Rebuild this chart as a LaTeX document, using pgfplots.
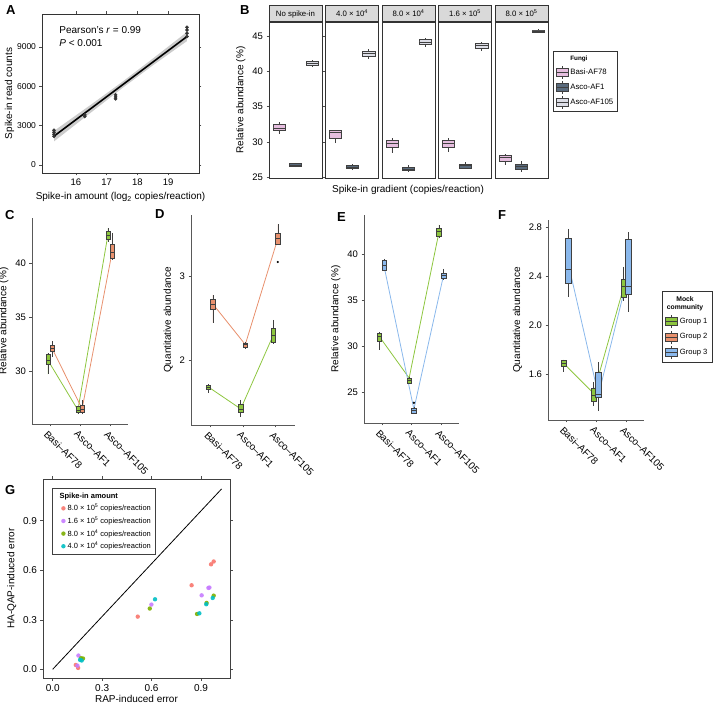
\documentclass[border=0pt]{standalone}
\usepackage{fontspec}
\setmainfont{Liberation Sans}
\usepackage{pgfplots}
\pgfplotsset{compat=1.18}
\usepgfplotslibrary{statistics}

\definecolor{basi}{HTML}{E6BEDF}
\definecolor{ascoone}{HTML}{5A6B7D}
\definecolor{ascolight}{HTML}{DDDEE7}
\definecolor{grpone}{HTML}{8DC63F}
\definecolor{grptwo}{HTML}{E8916E}
\definecolor{grpthree}{HTML}{8AB8EC}
\definecolor{gred}{HTML}{F8766D}
\definecolor{gpurple}{HTML}{C77CFF}
\definecolor{ggreen}{HTML}{7CAE00}
\definecolor{gteal}{HTML}{00BFC4}

\newcommand{\fs}[1]{\fontsize{#1}{#1}\selectfont}
% one prepared box: fill, position, width, low whisker, Q1, median, Q3, high whisker
\newcommand{\bx}[8]{\addplot[boxplot prepared={draw direction=y, draw position=#2,
    box extend=#3, lower whisker=#4, lower quartile=#5, median=#6,
    upper quartile=#7, upper whisker=#8, whisker extend=0}, fill=#1,
    draw=black!75, line width=0.5pt, forget plot] coordinates {};}
\newcommand{\boxkey}[1]{%
  \draw[black!75, line width=0.5pt] (6pt,-6.5pt) -- (6pt,6.5pt);
  \draw[fill=#1, draw=black!75, line width=0.5pt] (0pt,-4pt) rectangle (12pt,4pt);
  \draw[black!75, line width=0.5pt] (0pt,0pt) -- (12pt,0pt);}

\pgfplotsset{
  every axis/.append style={scale only axis, anchor=south west,
    /pgf/number format/assume math mode=true,
    tick label style={font=\fs{9.5}}, label style={font=\fs{10}},
    tick align=outside, major tick length=2.5pt,
    tick style={black!70, line width=0.5pt},
    axis line style={black!80, line width=0.6pt}},
  bpan/.style={width=53pt, height=156pt, xmin=0.4, xmax=3.6, ymin=24.9, ymax=47,
    xtick=\empty, ytick=\empty,
    every axis title/.style={at={(0.5,1)}, anchor=south, fill=gray!30,
      draw=black!80, line width=0.6pt, minimum width=53pt, minimum height=16pt,
      inner sep=0pt, text height=7pt, text depth=2pt, font=\fs{7.8}}},
  mock/.style={xmin=0.4, xmax=3.6, xtick={1,2,3},
    xticklabels={Basi--AF78, Asco--AF1, Asco--AF105},
    x tick label style={rotate=-45, anchor=north west, font=\fs{10}, xshift=-2pt},
    axis x line*=bottom, axis y line*=left,
    every outer x axis line/.append style={-},
    every outer y axis line/.append style={-},
    axis line style={-, black!65, line width=0.9pt}},
  lnk/.style={line width=0.8pt, mark=none, forget plot},
  dot/.style={only marks, mark=*, mark size=0.9pt, black, forget plot},
}

\begin{document}
\begin{tikzpicture}
\useasboundingbox (0,0) rectangle (725pt,704pt);

% ---------------- A
\begin{axis}[at={(42pt,531pt)}, width=157pt, height=159pt,
  xmin=14.9, xmax=20.0, ymin=-610, ymax=11519,
  xtick={16,17,18,19}, ytick={0,3000,6000,9000},
  yticklabel style={font=\fs{8.5}},
  scaled y ticks=false, /pgf/number format/1000 sep={},
  xlabel={Spike-in amount (log\textsubscript{2} copies/reaction)},
  ylabel={Spike-in read counts}, ylabel style={yshift=-4pt}]
\addplot[fill=gray!40, draw=none] coordinates {(15.29,2600) (16.5,4620) (17.5,6330)
  (18.5,8120) (19.61,10150) (19.61,9450) (18.5,7600) (17.5,5850) (16.5,4020) (15.29,1800)};
\addplot[black, line width=1.6pt] coordinates {(15.29,2200) (19.61,9800)};
\addplot[only marks, mark=*, mark size=1.6pt, black!80] coordinates {
  (15.29,2200) (15.29,2350) (15.29,2500) (15.29,2650)
  (16.29,3700) (16.29,3820)
  (17.29,5050) (17.29,5200) (17.29,5350)
  (19.61,9800) (19.61,10050) (19.61,10300) (19.61,10500)};
\node[anchor=west, font=\fs{10}] at (axis cs:15.35,10300) {Pearson's \textit{r} = 0.99};
\node[anchor=west, font=\fs{10}] at (axis cs:15.35,9300) {\textit{P} < 0.001};
\end{axis}

% ---------------- B
\begin{axis}[bpan, at={(269pt,526pt)}, ytick={25,30,35,40,45},
  ylabel={Relative abundance (\%)}, title={No spike-in}]
\bx{basi}{1}{0.72}{31.2}{31.7}{32.0}{32.5}{32.8}
\bx{ascoone}{2}{0.75}{26.45}{26.55}{26.75}{26.95}{27.05}
\bx{ascolight}{3}{0.75}{40.6}{40.9}{41.15}{41.4}{41.6}
\end{axis}
\begin{axis}[bpan, at={(325.5pt,526pt)}, title={4.0 × 10\textsuperscript{4}}]
\bx{basi}{1}{0.72}{29.8}{30.55}{31.45}{31.6}{31.7}
\bx{ascoone}{2}{0.75}{26.0}{26.25}{26.45}{26.7}{26.85}
\bx{ascolight}{3}{0.75}{41.8}{42.1}{42.55}{42.9}{43.2}
\end{axis}
\begin{axis}[bpan, at={(382pt,526pt)}, title={8.0 × 10\textsuperscript{4}}]
\bx{basi}{1}{0.72}{28.5}{29.2}{29.8}{30.25}{30.6}
\bx{ascoone}{2}{0.75}{25.9}{25.95}{26.15}{26.4}{26.7}
\bx{ascolight}{3}{0.75}{43.4}{43.8}{44.2}{44.5}{44.7}
\end{axis}
\begin{axis}[bpan, at={(438.5pt,526pt)}, title={1.6 × 10\textsuperscript{5}}]
\bx{basi}{1}{0.72}{28.6}{29.2}{29.8}{30.2}{30.6}
\bx{ascoone}{2}{0.75}{26.3}{26.35}{26.65}{26.85}{27.1}
\bx{ascolight}{3}{0.75}{42.9}{43.25}{43.65}{44.05}{44.2}
\end{axis}
\begin{axis}[bpan, at={(495pt,526pt)}, title={8.0 × 10\textsuperscript{5}},
  legend style={at={(1.094,0.814)}, anchor=north west, draw=black!80,
    line width=0.7pt, font=\fs{7.8}, row sep=1.5pt, inner sep=2.5pt},
  legend cell align=left]
\bx{basi}{1}{0.72}{26.8}{27.3}{27.8}{28.1}{28.3}
\bx{ascoone}{2}{0.75}{25.8}{26.1}{26.6}{26.8}{27.3}
\bx{ascolight}{3}{0.75}{45.5}{45.6}{45.75}{45.9}{46.0}
\addlegendimage{empty legend}\addlegendentry{\fs{6.3}\textbf{Fungi}}
\addlegendimage{legend image code/.code={\boxkey{basi}}}\addlegendentry{Basi-AF78}
\addlegendimage{legend image code/.code={\boxkey{ascoone}}}\addlegendentry{Asco-AF1}
\addlegendimage{legend image code/.code={\boxkey{ascolight}}}\addlegendentry{Asco-AF105}
\end{axis}
\node[font=\fs{10}] at (408pt,514pt) {Spike-in gradient (copies/reaction)};

% ---------------- C
\begin{axis}[mock, at={(32pt,280pt)}, width=96pt, height=206pt,
  ymin=25.1, ymax=44.17, ytick={30,35,40}, ylabel={Relative abundance (\%)}]
\addplot[lnk, grpone] coordinates {(0.93,31.0) (1.93,26.4) (2.93,42.6)};
\addplot[lnk, grptwo] coordinates {(1.07,32.1) (2.07,26.5) (3.07,41.0)};
\bx{grpone}{0.93}{0.14}{29.7}{30.6}{31.0}{31.6}{31.7}
\bx{grpone}{1.93}{0.14}{26.0}{26.2}{26.4}{26.7}{26.8}
\bx{grpone}{2.93}{0.14}{41.95}{42.2}{42.6}{42.9}{43.2}
\bx{grptwo}{1.07}{0.14}{31.3}{31.8}{32.1}{32.4}{32.8}
\bx{grptwo}{2.07}{0.14}{26.0}{26.2}{26.5}{26.8}{27.3}
\bx{grptwo}{3.07}{0.14}{40.3}{40.4}{41.0}{41.7}{42.8}
\end{axis}

% ---------------- D
\begin{axis}[mock, at={(191pt,279pt)}, width=104pt, height=210pt,
  ymin=1.24, ymax=3.72, ytick={2,3}, ylabel={Quantitative abundance}]
\addplot[lnk, grpone] coordinates {(0.93,1.69) (1.93,1.43) (2.93,2.30)};
\addplot[lnk, grptwo] coordinates {(1.07,2.67) (2.07,2.19) (3.07,3.44)};
\bx{grpone}{0.93}{0.15}{1.62}{1.66}{1.69}{1.71}{1.72}
\bx{grpone}{1.93}{0.15}{1.34}{1.39}{1.43}{1.49}{1.54}
\bx{grpone}{2.93}{0.15}{2.20}{2.22}{2.30}{2.38}{2.48}
\bx{grptwo}{1.07}{0.15}{2.45}{2.61}{2.67}{2.73}{2.78}
\bx{grptwo}{2.07}{0.15}{2.14}{2.16}{2.19}{2.21}{2.22}
\bx{grptwo}{3.07}{0.15}{3.38}{3.38}{3.44}{3.50}{3.61}
\addplot[dot] coordinates {(3.07,3.165)};
\end{axis}

% ---------------- E
\begin{axis}[mock, at={(364pt,281pt)}, width=95pt, height=208pt,
  ymin=21.6, ymax=44.25, ytick={25,30,35,40}, ylabel={Relative abundance (\%)}]
\addplot[lnk, grpone] coordinates {(0.92,31.0) (1.92,26.5) (2.92,42.3)};
\addplot[lnk, grpthree] coordinates {(1.08,38.6) (2.08,23.1) (3.08,37.7)};
\bx{grpone}{0.92}{0.15}{29.6}{30.45}{31.0}{31.4}{31.5}
\bx{grpone}{1.92}{0.15}{25.8}{25.98}{26.3}{26.5}{26.6}
\bx{grpone}{2.92}{0.15}{41.7}{41.96}{42.5}{42.8}{43.2}
\bx{grpthree}{1.08}{0.15}{38.1}{38.26}{38.8}{39.27}{39.5}
\bx{grpthree}{2.08}{0.15}{22.6}{22.7}{22.95}{23.2}{23.3}
\bx{grpthree}{3.08}{0.15}{37.2}{37.35}{37.7}{37.96}{38.4}
\addplot[dot] coordinates {(2.08,23.8)};
\end{axis}

% ---------------- F
\begin{axis}[mock, at={(548pt,284pt)}, width=96pt, height=200pt,
  ymin=1.227, ymax=2.86, ytick={1.6,2.0,2.4,2.8},
  yticklabel style={/pgf/number format/fixed, /pgf/number format/fixed zerofill,
    /pgf/number format/precision=1},
  ylabel={Quantitative abundance},
  legend style={at={(1.1875,0.645)}, anchor=north west, draw=black!80,
    line width=0.8pt, font=\fs{7.6}, row sep=2pt, inner sep=3pt},
  legend cell align=left]
\addplot[lnk, grpone] coordinates {(0.92,1.69) (1.92,1.445) (2.92,2.31)};
\addplot[lnk, grpthree] coordinates {(1.08,2.5) (2.08,1.43) (3.08,2.42)};
\bx{grpone}{0.92}{0.15}{1.62}{1.668}{1.69}{1.717}{1.72}
\bx{grpone}{1.92}{0.15}{1.34}{1.376}{1.43}{1.485}{1.54}
\bx{grpone}{2.92}{0.15}{2.20}{2.23}{2.32}{2.38}{2.48}
\bx{grpthree}{1.08}{0.19}{2.23}{2.34}{2.457}{2.715}{2.79}
\bx{grpthree}{2.08}{0.19}{1.30}{1.41}{1.44}{1.62}{1.70}
\bx{grpthree}{3.08}{0.19}{2.11}{2.25}{2.32}{2.70}{2.76}
\addlegendimage{empty legend}\addlegendentry{\hspace{-13pt}\shortstack[c]{\fs{6.8}\textbf{Mock}\\\fs{6.8}\textbf{community}}}
\addlegendimage{legend image code/.code={\boxkey{grpone}}}\addlegendentry{Group 1}
\addlegendimage{legend image code/.code={\boxkey{grptwo}}}\addlegendentry{Group 2}
\addlegendimage{legend image code/.code={\boxkey{grpthree}}}\addlegendentry{Group 3}
\end{axis}

% ---------------- G
\begin{axis}[at={(43pt,26pt)}, width=187pt, height=199pt,
  xmin=-0.059, xmax=1.076, ymin=-0.053, ymax=1.153,
  xtick={0,0.3,0.6,0.9}, ytick={0,0.3,0.6,0.9},
  tick label style={font=\fs{10}},
  xticklabel style={/pgf/number format/fixed, /pgf/number format/fixed zerofill,
    /pgf/number format/precision=1},
  yticklabel style={/pgf/number format/fixed, /pgf/number format/fixed zerofill,
    /pgf/number format/precision=1},
  axis line style={black!75, line width=0.8pt},
  xlabel={RAP-induced error}, ylabel={HA-QAP-induced error},
  xlabel style={yshift=3pt},
  legend style={at={(0.048,0.955)}, anchor=north west, draw=black!75,
    line width=0.8pt, font=\fs{7.5}, row sep=0.5pt, inner sep=2.5pt},
  legend cell align=left]
\addplot[black, line width=0.8pt, forget plot] coordinates {(0,0) (1.025,1.093)};
\addlegendimage{empty legend}\addlegendentry{\hspace{-8pt}\textbf{Spike-in amount}}
\addplot[only marks, mark=*, mark size=2.2pt, gred, draw opacity=0, fill opacity=0.9] coordinates {
  (0.516,0.319) (0.843,0.509) (0.961,0.636) (0.977,0.653) (0.140,0.026) (0.154,0.008)};
\addlegendentry{8.0 × 10\textsuperscript{5} copies/reaction}
\addplot[only marks, mark=*, mark size=2.2pt, gpurple, draw opacity=0, fill opacity=0.9] coordinates {
  (0.599,0.392) (0.904,0.448) (0.945,0.493) (0.951,0.495) (0.156,0.083) (0.150,0.022)};
\addlegendentry{1.6 × 10\textsuperscript{5} copies/reaction}
\addplot[only marks, mark=*, mark size=2.2pt, ggreen, draw opacity=0, fill opacity=0.9] coordinates {
  (0.589,0.368) (0.876,0.335) (0.934,0.402) (0.977,0.446) (0.172,0.067) (0.184,0.065)};
\addlegendentry{8.0 × 10\textsuperscript{4} copies/reaction}
\addplot[only marks, mark=*, mark size=2.2pt, gteal, draw opacity=0, fill opacity=0.9] coordinates {
  (0.621,0.424) (0.890,0.339) (0.932,0.394) (0.971,0.432) (0.166,0.057) (0.176,0.053)};
\addlegendentry{4.0 × 10\textsuperscript{4} copies/reaction}
\end{axis}

% panel letters
\begin{scope}[every node/.style={anchor=north west, inner sep=0pt, font=\bfseries\fs{13}}]
\node at (6pt,699pt) {A};
\node at (240pt,699pt) {B};
\node at (5pt,494pt) {C};
\node at (155pt,495pt) {D};
\node at (337pt,492pt) {E};
\node at (498pt,494pt) {F};
\node at (5pt,219pt) {G};
\end{scope}
\end{tikzpicture}
\end{document}
